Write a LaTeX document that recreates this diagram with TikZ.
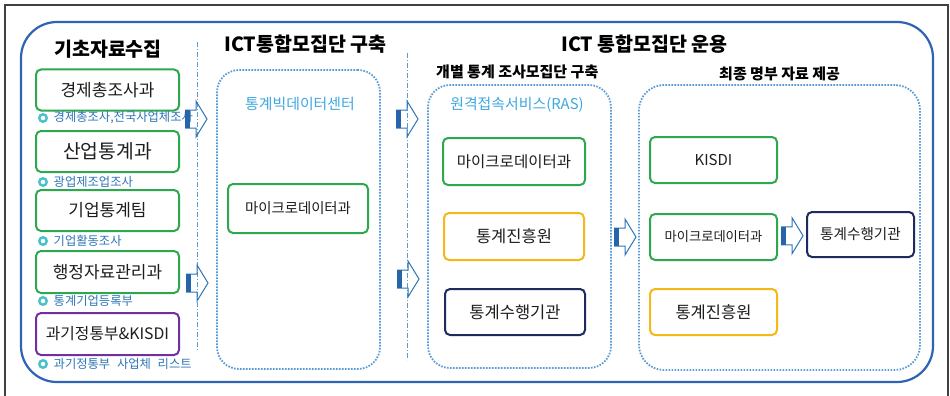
\documentclass[tikz,border=0pt]{standalone}
\usepackage{fontspec}
\setmainfont{Noto Sans CJK KR}
\usetikzlibrary{calc}
\definecolor{cgreen}{RGB}{46,168,78}
\definecolor{cyellow}{RGB}{245,184,25}
\definecolor{cnavy}{RGB}{31,42,94}
\definecolor{cpurple}{RGB}{112,48,160}
\definecolor{cframe}{RGB}{46,99,181}
\definecolor{cdot}{RGB}{91,155,213}
\definecolor{clabel}{RGB}{46,117,182}
\definecolor{ccyan}{RGB}{75,192,205}
\definecolor{clight}{RGB}{64,168,224}
\definecolor{textdark}{RGB}{30,30,30}
\definecolor{carrow}{RGB}{46,117,182}
\definecolor{carrowbar}{RGB}{40,100,170}
\definecolor{cborder}{RGB}{64,64,64}
\tikzset{
  box/.style={draw, rounded corners=5pt, line width=2pt, minimum width=143pt,
    minimum height=41pt, inner sep=0pt, text=textdark, font=\fontsize{17}{19}\selectfont},
  gbox/.style={box, draw=cgreen},
  ybox/.style={box, draw=cyellow},
  nbox/.style={box, draw=cnavy},
  pbox/.style={box, draw=cpurple},
  grp/.style={draw=cdot, line width=1.8pt, dash pattern=on 1.6pt off 1.4pt,
    rounded corners=22pt, inner sep=0pt},
  lbl/.style={anchor=west, text=clabel, font=\fontsize{12.3}{14}\selectfont, inner sep=0pt},
  bul/.style={circle, draw=ccyan, line width=2.4pt, minimum size=7.5pt, inner sep=0pt},
  headtxt/.style={font=\bfseries\fontsize{19.5}{22}\selectfont, anchor=west, inner sep=0pt},
  subhead/.style={font=\bfseries\fontsize{15}{17}\selectfont, anchor=west, inner sep=0pt},
  grplabel/.style={text=clight, font=\fontsize{14.9}{17}\selectfont, inner sep=0pt},
  divider/.style={draw=cdot, line width=0.9pt, dash pattern=on 5pt off 2pt on 1pt off 2pt},
  blockarr/.pic={
    \draw[draw=carrow, line width=1pt, line join=miter]
      (-11,-9) -- (0,-9) -- (0,-18) -- (11,0) -- (0,18) -- (0,9) -- (-11,9);
    \fill[carrowbar] (-11,-9) rectangle (-6.5,9);
  }
}
\begin{document}
\begin{tikzpicture}[x=1pt,y=-1pt]
\useasboundingbox (0,0) rectangle (950,396);
\clip (0,0) rectangle (950,396);
\fill[white] (0,0) rectangle (950,396);
% outer border
\draw[cborder, line width=1.6pt] (5,420) -- (5,5) -- (948,5) -- (948,420);
% main frame
\draw[cframe, line width=2.2pt, rounded corners=36pt] (21,22) rectangle (933,382);
% dividers
\draw[divider] (197,42) -- (197,351);
\draw[divider] (407,53) -- (407,360);

% headings
\node[headtxt] (h1) at (54,49) {기초자료수집};
\node[headtxt] (h2) at (224,44) {ICT통합모집단 구축};
\node[headtxt] (h3) at (561,44) {ICT 통합모집단 운용};
\node[subhead] (h4) at (436,72) {개별 통계 조사모집단 구축};
\node[subhead] (h5) at (719,74) {최종 명부 자료 제공};

% left column
\node[gbox] (b1) at (107.5,90) {경제총조사과};
\node[gbox, font=\fontsize{19.3}{21}\selectfont] (b2) at (107.5,151.5) {산업통계과};
\node[gbox] (b3) at (107.5,210.5) {기업통계팀};
\node[gbox, minimum height=42pt] (b4) at (107.5,272) {행정자료관리과};
\node[pbox, minimum height=42pt, font=\fontsize{15.8}{17}\selectfont] (b5) at (107.5,334) {과기정통부\&KISDI};

\node[bul] (c1) at (43,118) {};
\node[lbl] (l1) at (53.5,118) {경제총조사,전국사업체조사};
\node[bul] (c2) at (43,182) {};
\node[lbl] (l2) at (53.5,182) {광업제조업조사};
\node[bul] (c3) at (43,241) {};
\node[lbl] (l3) at (53.5,241) {기업활동조사};
\node[bul] (c4) at (43,301) {};
\node[lbl] (l4) at (53.5,301) {통계기업등록부};
\node[bul] (c5) at (43,364) {};
\node[lbl] (l5) at (53.5,364) {과기정통부\hspace{4pt} 사업체\hspace{4pt} 리스트};

% middle group
\node[grp, minimum width=163pt, minimum height=299pt] (g2) at (298.5,219.5) {};
\node[grplabel] (t2) at (300,104) {통계빅데이터센터};
\node[gbox, minimum width=140pt, minimum height=49pt, font=\fontsize{14.4}{16}\selectfont] (m1) at (298,208.5) {마이크로데이터과};

% section 3
\node[grp, minimum width=183pt, minimum height=283pt] (g3) at (519.5,226.5) {};
\node[grplabel] (t3) at (517,105) {원격접속서비스(RAS)};
\node[gbox, minimum width=142pt, minimum height=47pt, font=\fontsize{15.5}{17}\selectfont] (s1) at (514,161.5) {마이크로데이터과};
\node[ybox, minimum width=140pt, minimum height=47pt, font=\fontsize{16.5}{18}\selectfont] (s2) at (514,236.5) {통계진흥원};
\node[nbox, minimum width=140pt, minimum height=46pt, font=\fontsize{16.5}{18}\selectfont] (s3) at (515,312) {통계수행기관};

% section 4
\node[grp, minimum width=281pt, minimum height=285pt, rounded corners=25pt] (g4) at (779.5,227.5) {};
\node[gbox, minimum width=127pt, minimum height=46pt, font=\fontsize{15}{17}\selectfont] (k1) at (713.5,160) {KISDI};
\node[gbox, minimum width=127pt, minimum height=46pt, font=\fontsize{13.3}{15}\selectfont] (k2) at (713.5,237) {마이크로데이터과};
\node[nbox, minimum width=107pt, minimum height=45pt, font=\fontsize{14.6}{16}\selectfont] (k3) at (860.5,234.5) {통계수행기관};
\node[ybox, minimum width=127pt, minimum height=46pt, font=\fontsize{16.5}{18}\selectfont] (k4) at (713.5,312) {통계진흥원};

% block arrows
\coordinate (a1) at (196,119);
\coordinate (a2) at (197,283);
\coordinate (a3) at (407,119);
\coordinate (a4) at (408,279);
\coordinate (a5) at ($(g3.east)!0.5!(g4.west)$);
\coordinate (a6) at ($(k2.east)!0.5!(k3.west)$);
\pic at (a1) {blockarr};
\pic at (a2) {blockarr};
\pic at (a3) {blockarr};
\pic at (a4) {blockarr};
\pic at ([yshift=-10pt]a5) {blockarr};
\pic at (a6) {blockarr};
\end{tikzpicture}
\end{document}
